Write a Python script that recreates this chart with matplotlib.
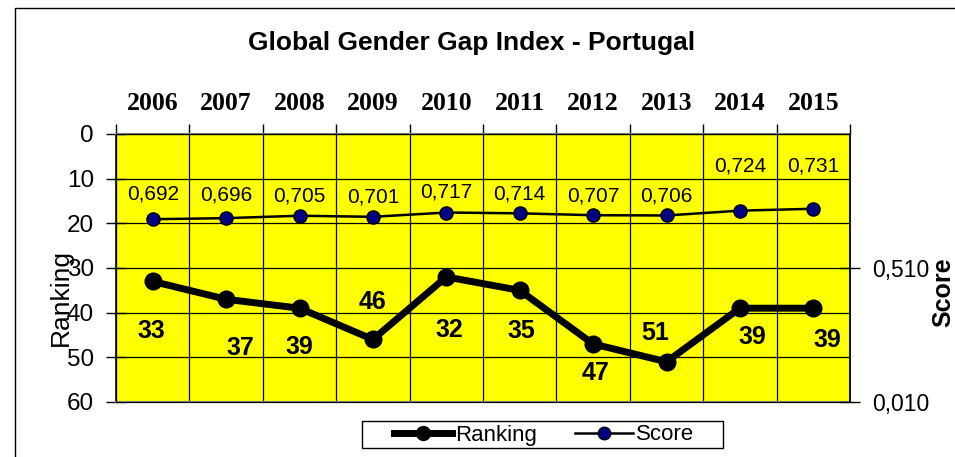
import matplotlib
matplotlib.use("Agg")
import matplotlib.pyplot as plt
from matplotlib.patches import Rectangle
from matplotlib.lines import Line2D

years = ["2006", "2007", "2008", "2009", "2010", "2011", "2012", "2013", "2014", "2015"]
ranking = [33, 37, 39, 46, 32, 35, 47, 51, 39, 39]
score = [0.692, 0.696, 0.705, 0.701, 0.717, 0.714, 0.707, 0.706, 0.724, 0.731]

# data label offsets in points (x, y-down) as laid out on the sheet
rank_label_dx = [-1, 10, 0, 0, 2, 1, 2, -8, 9, 10]
rank_label_dy = [36, 35, 28, -27, 38, 29, 21, -21, 21, 23]
score_label_dy = [18, 17, 14, 14, 15, 14, 14, 14, 32, 31]

sans = "Liberation Sans"
serif = "Liberation Serif"

W, H = 955, 457
fig = plt.figure(figsize=(W / 100, H / 100), dpi=100)

# outer chart border
fig.patches.append(Rectangle((15 / W, -0.1), 1.2, 1.1 - 8 / H,
                             transform=fig.transFigure, fill=False,
                             edgecolor="black", linewidth=1.0))

ax = fig.add_axes([116 / W, 1 - 402 / H, 734 / W, 268 / H])
ax.set_facecolor("#ffff00")
x = [i + 0.5 for i in range(len(years))]

ax.plot(x, ranking, color="black", linewidth=5, marker="o",
        markersize=12, zorder=4, clip_on=False)
for xi, r, dx, dy in zip(x, ranking, rank_label_dx, rank_label_dy):
    ax.annotate(str(r), (xi, r), xytext=(dx, -dy),
                textcoords="offset points", ha="center", va="center",
                fontsize=18, fontweight="bold", family=sans, zorder=5)

ax.set_xlim(0, len(years))
ax.set_ylim(60, 0)
ax.set_yticks(range(0, 61, 10))
ax.tick_params(axis="y", direction="inout", length=14, width=1,
               labelsize=17.5, pad=9)
for lbl in ax.get_yticklabels():
    lbl.set_family(sans)

ax.xaxis.tick_top()
ax.set_xticks(x)
ax.set_xticklabels(years, fontsize=18.5, fontweight="bold", family=serif)
ax.set_xticks(range(len(years) + 1), minor=True)
ax.tick_params(axis="x", which="major", length=0, pad=14)
ax.tick_params(axis="x", which="minor", length=7, direction="out", width=1)
ax.grid(True, axis="x", which="minor", color="black", linewidth=0.9)
ax.grid(True, axis="y", which="major", color="black", linewidth=0.9)
ax.set_axisbelow(True)
for side in ("top", "bottom", "right"):
    ax.spines[side].set_color("#808080")
    ax.spines[side].set_linewidth(1.5)
ax.spines["left"].set_linewidth(1.2)

ax2 = ax.twinx()
ax2.set_ylim(0.010, 1.010)
ax2.plot(x, score, color="black", linewidth=1.8, marker="o", markersize=9.5,
         markerfacecolor="#000080", markeredgecolor="black", zorder=4)
for xi, s, dy in zip(x, score, score_label_dy):
    ax2.annotate("{:.3f}".format(s).replace(".", ","), (xi, s),
                 xytext=(0, dy), textcoords="offset points", ha="center",
                 va="center", fontsize=15, family=sans)
ax2.set_yticks([0.010, 0.510])
ax2.set_yticklabels(["0,010", "0,510"], fontsize=16.5, family=sans)
ax2.tick_params(axis="y", direction="inout", length=14, width=1, pad=9)
ax2.spines["right"].set_color("black")
ax2.spines["right"].set_linewidth(1.2)

fig.text(61 / W, 1 - 298 / H, "Ranking", rotation=90, ha="center",
         va="center", fontsize=19, family=sans)
fig.text(943 / W, 1 - 292 / H, "Score", rotation=90, ha="center",
         va="center", fontsize=18, fontweight="bold", family=sans)
fig.text(472 / W, 1 - 43 / H, "Global Gender Gap Index - Portugal",
         ha="center", va="center", fontsize=19, fontweight="bold", family=sans)

# legend with its own box
handles = [
    Line2D([], [], color="black", linewidth=5, marker="o", markersize=10),
    Line2D([], [], color="black", linewidth=1.8, marker="o", markersize=9,
           markerfacecolor="#000080", markeredgecolor="black"),
]
fig.legend(handles, ["Ranking", "Score"], loc="center",
           bbox_to_anchor=(544 / W, 1 - 435 / H), ncol=2, frameon=False,
           prop={"family": sans, "size": 16}, handlelength=2.6,
           handletextpad=0.15, columnspacing=1.7, borderpad=0,
           borderaxespad=0)
fig.patches.append(Rectangle((362 / W, 1 - 448 / H), 361 / W, 27 / H,
                             transform=fig.transFigure, fill=False,
                             edgecolor="black", linewidth=1.0))

fig.savefig("out.png", dpi=100)
